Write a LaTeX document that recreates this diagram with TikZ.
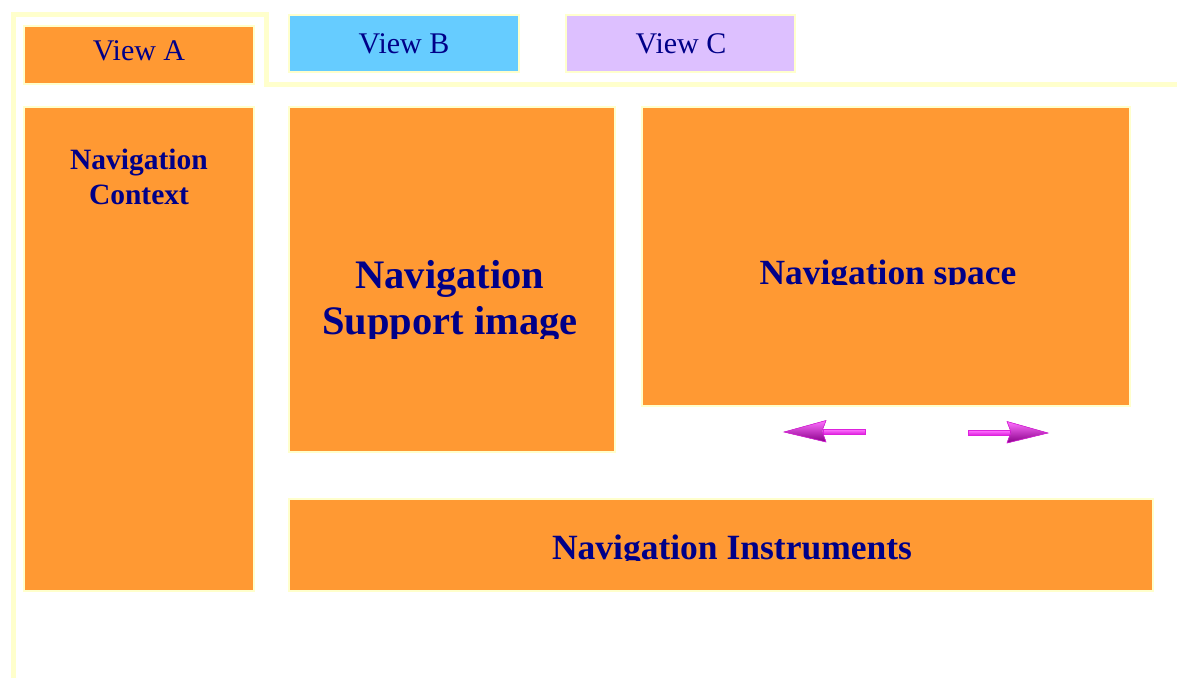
\documentclass[tikz,border=0pt]{standalone}
\usepackage{fontspec}
\setmainfont{Liberation Serif}
\definecolor{panel}{HTML}{FF9933}
\definecolor{edge}{HTML}{FFFFCC}
\definecolor{ink}{HTML}{000088}
\definecolor{tabblue}{HTML}{66CCFF}
\definecolor{tablilac}{HTML}{DDC0FF}
\definecolor{arrowlight}{HTML}{FF70FF}
\definecolor{arrowmid}{HTML}{DD22DD}
\definecolor{arrowdark}{HTML}{880088}
\tikzset{
  box/.style={draw=edge, line width=2pt, inner sep=0pt, outer sep=0pt, anchor=north west},
  tablabel/.style={text=ink, anchor=base, inner sep=0pt, font=\fontsize{30}{35}\selectfont},
  boldlabel/.style={text=ink, anchor=base, inner sep=0pt, align=center, font=\bfseries},
  frame/.style={draw=edge, line width=5pt, line join=miter},
  arrowhead/.style={top color=arrowlight, bottom color=arrowdark, draw=arrowmid, line width=0.6pt},
  arrowshaft/.style={top color=arrowlight, bottom color=arrowmid, draw=arrowmid, line width=0.6pt}
}
\begin{document}
\begin{tikzpicture}[x=1pt, y=-1pt]
\useasboundingbox (0,0) rectangle (1177,677);

% outer frame of the tabbed window
\draw[frame] (13,680) -- (13,15) -- (266,15) -- (266,84.5) -- (1180,84.5);

% tabs
\node[box, fill=panel, minimum width=230pt, minimum height=58pt] (tabA) at (24,26) {};
\node[box, fill=tabblue, minimum width=230pt, minimum height=57pt] (tabB) at (289,15) {};
\node[box, fill=tablilac, minimum width=229pt, minimum height=57pt] (tabC) at (566,15) {};
\node[tablabel] (labA) at (139,60) {View A};
\node[tablabel] (labB) at (404,54) {View B};
\node[tablabel] (labC) at (681,54) {View C};

% panels
\node[box, fill=panel, minimum width=230pt, minimum height=484pt] (context) at (24,107) {};
\node[box, fill=panel, minimum width=326pt, minimum height=345pt] (support) at (289,107) {};
\node[box, fill=panel, minimum width=488pt, minimum height=299pt] (space) at (642,107) {};
\node[box, fill=panel, minimum width=864pt, minimum height=92pt] (instr) at (289,499) {};

% panel titles (base anchor sits on the last line)
\node[boldlabel, font=\bfseries\fontsize{29.5}{35}\selectfont] (ctxtext) at (139,204)
  {Navigation\\Context};
\begin{scope}
  \clip (290,108) rectangle (614,338);
  \node[boldlabel, font=\bfseries\fontsize{40.5}{46}\selectfont] (suptext) at (450,334)
    {Navigation\\Support image};
\end{scope}
\begin{scope}
  \clip (643,108) rectangle (1129,284.5);
  \node[boldlabel, font=\bfseries\fontsize{35.4}{40}\selectfont] (spacetext) at (888,284)
    {Navigation space};
\end{scope}
\begin{scope}
  \clip (290,500) rectangle (1152,560);
  \node[boldlabel, font=\bfseries\fontsize{35.5}{40}\selectfont] (instrtext) at (732,559)
    {Navigation Instruments};
\end{scope}

% scroll arrows under the navigation space
\coordinate (ltip) at (784,432);
\coordinate (rtip) at (1048,433);
\fill[arrowshaft] (823,429.5) rectangle (865,434);
\filldraw[arrowhead] (ltip) -- (826,420.5) -- (822,431) -- (826,442) -- cycle;
\fill[arrowshaft] (968,430.5) rectangle (1010,435);
\filldraw[arrowhead] (rtip) -- (1007,421.5) -- (1011,432) -- (1007,443) -- cycle;
\end{tikzpicture}
\end{document}
